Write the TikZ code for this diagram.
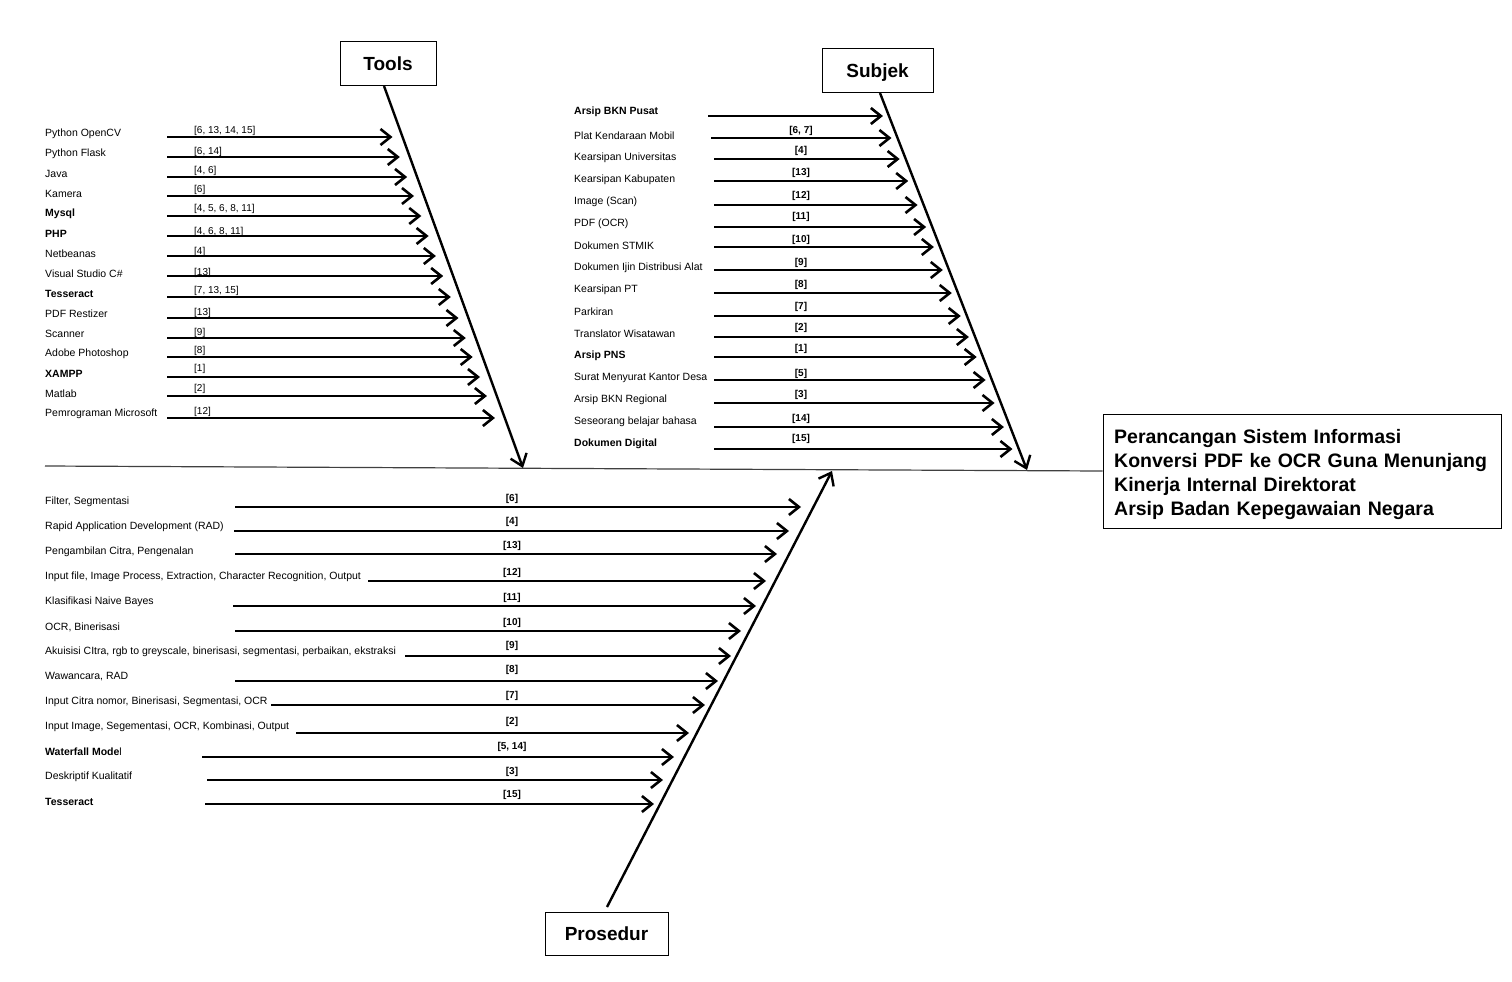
\documentclass[tikz,border=0pt]{standalone}
\usepackage{fontspec}
\setmainfont{Liberation Sans}
\usetikzlibrary{arrows.meta}
\begin{document}
\begin{tikzpicture}[x=1pt,y=-1pt,
  rib/.style={line width=2.6pt, -{Straight Barb[length=10pt,width=16pt]}},
  bone/.style={line width=2.4pt, -{Straight Barb[length=11pt,width=17pt]}},
  spine/.style={line width=1.2pt, black!75},
  item/.style={anchor=west, inner sep=0pt, yshift=-2pt, font=\fontsize{10.5}{12}\selectfont},
  ref/.style={inner sep=0pt, yshift=-2pt, font=\fontsize{10}{12}\selectfont},
  bref/.style={inner sep=0pt, yshift=-2pt, font=\fontsize{10}{12}\selectfont\bfseries},
  cat/.style={draw, line width=1pt, inner sep=0pt, text height=13.7pt, text depth=0pt,
              font=\fontsize{19}{22}\selectfont\bfseries}
]
\useasboundingbox (0,0) rectangle (1512,982);

% category boxes and the effect box
\node[cat, minimum width=96pt, minimum height=43pt] (tools) at (388,63.5) {Tools};
\node[cat, minimum width=111pt, minimum height=43pt] (subjek) at (877.5,70.5) {Subjek};
\node[cat, minimum width=123pt, minimum height=43pt] (prosedur) at (606.5,933.5) {Prosedur};
\node[draw, line width=1pt, minimum width=398pt, minimum height=114pt, inner sep=0pt] (title) at (1302,471) {};
\node[anchor=west, inner sep=0pt, text width=376pt, align=left,
      font=\fontsize{19.5}{24}\selectfont\bfseries] (titletext) at (1114,474)
  {Perancangan Sistem Informasi\\Konversi PDF ke OCR Guna Menunjang\\Kinerja Internal Direktorat\\Arsip Badan Kepegawaian Negara};

% spine
\coordinate (spineL) at (45,466);
\draw[spine] (spineL) -- (title.west);

% main bones
\coordinate (toolsTop) at (384,86);
\coordinate (toolsEnd) at (523,468);
\coordinate (subjekTop) at (880,93);
\coordinate (subjekEnd) at (1027,470);
\coordinate (prosBot) at (607,907);
\coordinate (prosEnd) at (832,471);
\draw[bone] (toolsTop) -- (toolsEnd);
\draw[bone] (subjekTop) -- (subjekEnd);
\draw[bone] (prosBot) -- (prosEnd);

% Tools ribs
\foreach \n/\txt/\ly/\lny/\ry/\rf in {
  1/{Python OpenCV}/132/137/129/{[6, 13, 14, 15]},
  2/{Python Flask}/152/157/150/{[6, 14]},
  3/{Java}/172/177/169/{[4, 6]},
  4/{Kamera}/192/196/188/{[6]},
  5/{\textbf{Mysql}}/212/216/207/{[4, 5, 6, 8, 11]},
  6/{\textbf{PHP}}/232/236/230/{[4, 6, 8, 11]},
  7/{Netbeanas}/252/256/250/{[4]},
  8/{Visual Studio C\#}/272/276/271/{[13]},
  9/{\textbf{Tesseract}}/292/297/289/{[7, 13, 15]},
  10/{PDF Restizer}/312/318/311/{[13]},
  11/{Scanner}/332/338/331/{[9]},
  12/{Adobe Photoshop}/352/357/349/{[8]},
  13/{\textbf{XAMPP}}/372/377/367/{[1]},
  14/{Matlab}/392/396/387/{[2]},
  15/{Pemrograman Microsoft}/412/418/410/{[12]}}
{
  \node[item] (tl\n) at (45,\ly) {\txt};
  \pgfmathsetmacro\tx{391.7+0.3645*(\lny-110)-9}
  \coordinate (ts\n) at (167,\lny);
  \coordinate (te\n) at (\tx,\lny);
  \draw[rib] (ts\n) -- (te\n);
  \node[ref, anchor=west] (tr\n) at (194,\ry) {\rf};
}

% Subjek ribs
\foreach \n/\txt/\ly/\lny/\ry/\rf/\sx in {
  1/{\textbf{Arsip BKN Pusat}}/110/116/105/{}/708,
  2/{Plat Kendaraan Mobil}/134/138/129/{[6, 7]}/711,
  3/{Kearsipan Universitas}/156/159/149/{[4]}/714,
  4/{Kearsipan Kabupaten}/178/181/171/{[13]}/714,
  5/{Image (Scan)}/200/205/194/{[12]}/714,
  6/{PDF (OCR)}/222/227/215/{[11]}/714,
  7/{Dokumen STMIK}/244/247/238/{[10]}/714,
  8/{Dokumen Ijin Distribusi Alat}/266/270/261/{[9]}/714,
  9/{Kearsipan PT}/288/293/283/{[8]}/714,
  10/{Parkiran}/310/316/305/{[7]}/714,
  11/{Translator Wisatawan}/332/337/326/{[2]}/714,
  12/{\textbf{Arsip PNS}}/354/357/347/{[1]}/714,
  13/{Surat Menyurat Kantor Desa}/376/380/372/{[5]}/714,
  14/{Arsip BKN Regional}/398/403/393/{[3]}/714,
  15/{Seseorang belajar bahasa}/420/427/417/{[14]}/714,
  16/{\textbf{Dokumen Digital}}/442/449/437/{[15]}/714}
{
  \node[item] (sl\n) at (574,\ly) {\txt};
  \pgfmathsetmacro\tx{880+0.389*(\lny-93)-6}
  \coordinate (ss\n) at (\sx,\lny);
  \coordinate (se\n) at (\tx,\lny);
  \draw[rib] (ss\n) -- (se\n);
  \node[bref] (sr\n) at (801,\ry) {\rf};
}

% Prosedur ribs
\foreach \n/\txt/\ly/\lny/\ry/\rf/\sx/\tx in {
  1/{Filter, Segmentasi}/500/507/497/{[6]}/235/801,
  2/{Rapid Application Development (RAD)}/525/531/520/{[4]}/234/789,
  3/{Pengambilan Citra, Pengenalan}/550/554/544/{[13]}/235/777,
  4/{Input file, Image Process, Extraction, Character Recognition, Output}/575/581/571/{[12]}/368/766,
  5/{Klasifikasi Naive Bayes}/600/606/596/{[11]}/233/756,
  6/{OCR, Binerisasi}/625/631/621/{[10]}/235/741,
  7/{Akuisisi CItra, rgb to greyscale, binerisasi, segmentasi, perbaikan, ekstraksi}/650/656/644/{[9]}/405/731,
  8/{Wawancara, RAD}/675/681/668/{[8]}/235/718,
  9/{Input Citra nomor, Binerisasi, Segmentasi, OCR}/700/705/694/{[7]}/271/705,
  10/{Input Image, Segementasi, OCR, Kombinasi, Output}/725/733/720/{[2]}/296/689,
  11/{\textbf{Waterfall Mode}l}/750/757/745/{[5, 14]}/202/674,
  12/{Deskriptif Kualitatif}/775/780/770/{[3]}/207/663,
  13/{\textbf{Tesseract}}/800/804/793/{[15]}/205/654}
{
  \node[item] (pl\n) at (45,\ly) {\txt};
  \coordinate (ps\n) at (\sx,\lny);
  \coordinate (pe\n) at (\tx,\lny);
  \draw[rib] (ps\n) -- (pe\n);
  \node[bref] (pr\n) at (512,\ry) {\rf};
}
\end{tikzpicture}
\end{document}
